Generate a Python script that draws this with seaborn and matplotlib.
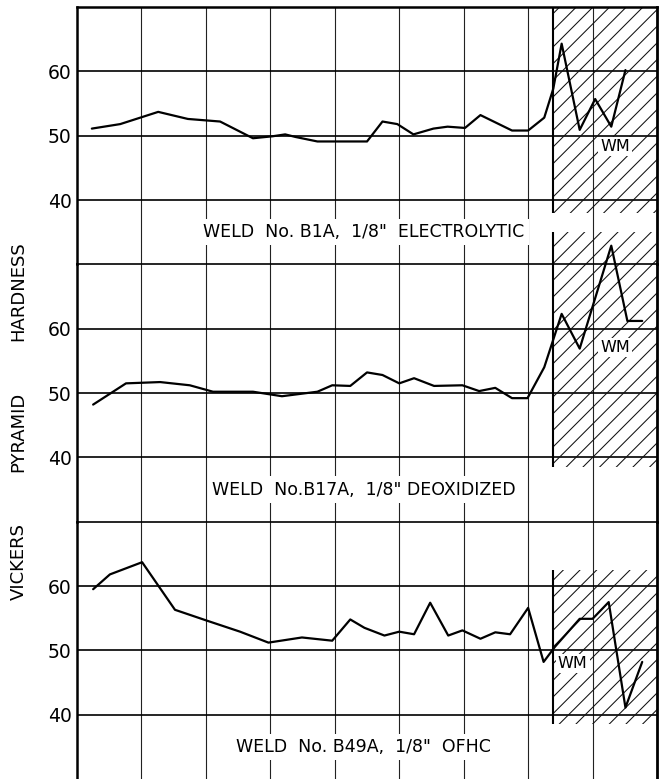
import matplotlib
matplotlib.use("Agg")
import matplotlib.pyplot as plt
from matplotlib.patches import Rectangle
import seaborn as sns
import pandas as pd

# ---- data (x in grid units 0..9, y = Vickers pyramid hardness) ----
p1_x = [0.23, 0.67, 1.26, 1.72, 2.22, 2.73, 3.03, 3.23, 3.39, 3.73, 4.50, 4.74, 4.97,
        5.22, 5.53, 5.75, 6.02, 6.26, 6.75, 7.00, 7.25, 7.39, 7.52, 7.80, 8.04, 8.29, 8.51]
p1_y = [51.1, 51.8, 53.7, 52.6, 52.2, 49.6, 49.9, 50.2, 49.8, 49.1, 49.1, 52.2, 51.8,
        50.2, 51.1, 51.4, 51.2, 53.2, 50.8, 50.8, 52.8, 57.3, 64.3, 50.9, 55.7, 51.4, 60.2]

p2_x = [0.25, 0.76, 1.29, 1.75, 2.11, 2.73, 3.18, 3.73, 3.96, 4.24, 4.50, 4.74, 5.00,
        5.23, 5.54, 5.98, 6.24, 6.49, 6.75, 6.99, 7.25, 7.52, 7.80, 8.29, 8.54, 8.77]
p2_y = [48.2, 51.5, 51.7, 51.2, 50.2, 50.2, 49.5, 50.2, 51.2, 51.1, 53.2, 52.8, 51.5,
        52.3, 51.1, 51.2, 50.3, 50.8, 49.2, 49.2, 54.0, 62.3, 56.9, 72.9, 61.2, 61.2]

p3_x = [0.25, 0.51, 1.01, 1.52, 2.02, 2.53, 2.97, 3.49, 3.96, 4.24, 4.46, 4.77, 5.00,
        5.23, 5.48, 5.76, 5.98, 6.26, 6.49, 6.72, 7.00, 7.24, 7.42, 7.80, 8.00, 8.25,
        8.51, 8.77]
p3_y = [59.5, 61.8, 63.7, 56.3, 54.6, 52.9, 51.2, 52.0, 51.5, 54.8, 53.5, 52.3, 52.9,
        52.5, 57.4, 52.3, 53.1, 51.8, 52.8, 52.5, 56.6, 48.2, 50.6, 54.9, 54.9, 57.5,
        41.1, 48.2]

panel_titles = ['WELD  No. B1A,  1/8"  ELECTROLYTIC',
                'WELD  No.B17A,  1/8" DEOXIDIZED',
                'WELD  No. B49A,  1/8"  OFHC']
ytick_values = [40, 50, 60]
ytick_labels = ["40", "50", "60"]
ylabel_words = ["VICKERS", "PYRAMID", "HARDNESS"]

# weld-metal zone (hatched) per panel: x start, y bottom, y top
wm_x0 = 7.39
wm_lo = [38.0, 38.5, 38.5]
wm_hi = [70.0, 75.0, 62.5]
wm_label_xy = [(8.35, 48.3), (8.35, 57.1), (7.69, 48.0)]

sns.set_style("white")
plt.rcParams["font.family"] = ["DejaVu Sans"]
plt.rcParams["hatch.linewidth"] = 0.75
plt.rcParams["text.color"] = "black"
plt.rcParams["ytick.color"] = "black"
plt.rcParams["ytick.labelcolor"] = "black"

fig = plt.figure(figsize=(6.64, 7.79), dpi=100)
axes = fig.subplots(3, 1, sharex=True)
fig.subplots_adjust(left=0.116, right=0.9895, top=0.991, bottom=0.0, hspace=0)

series = [(p1_x, p1_y), (p2_x, p2_y), (p3_x, p3_y)]

for i, ax in enumerate(axes):
    ax.set_facecolor("none")
    ax.set_xlim(0, 9)
    ax.set_ylim(30, 70)
    # grid
    for xv in range(1, 9):
        ax.axvline(xv, color="#222222", lw=0.8, zorder=1)
    for yv in ytick_values:
        ax.axhline(yv, color="black", lw=1.2, zorder=1)
    ax.set_yticks(ytick_values)
    ax.set_yticklabels(ytick_labels, fontsize=13.5, color="black")
    ax.set_xticks([])
    ax.tick_params(axis="y", length=0, pad=4, labelcolor="black")
    for s in ax.spines.values():
        s.set_color("black")
    ax.spines["bottom"].set_visible(False)
    ax.spines["left"].set_linewidth(1.8)
    ax.spines["right"].set_linewidth(2.0)
    ax.spines["top"].set_linewidth(1.8 if i == 0 else 1.2)

    # hatched weld-metal zone
    rect = Rectangle((wm_x0, wm_lo[i]), 9 - wm_x0, wm_hi[i] - wm_lo[i],
                     facecolor="none", edgecolor="#111111", hatch="//", lw=0,
                     clip_on=False, zorder=2)
    ax.add_patch(rect)
    ax.vlines(wm_x0, wm_lo[i], wm_hi[i], color="black", lw=1.5, clip_on=False, zorder=2)

    df = pd.DataFrame({"x": series[i][0], "y": series[i][1]})
    sns.lineplot(data=df, x="x", y="y", ax=ax, color="black", lw=1.6, sort=False,
                 estimator=None, clip_on=False, zorder=5)
    ax.set_ylabel("")
    ax.set_xlabel("")

    ax.text(4.45, 35.0, panel_titles[i], ha="center", va="center", fontsize=12.5,
            color="black",
            bbox=dict(facecolor="white", edgecolor="none", pad=3), zorder=6)
    wx, wy = wm_label_xy[i]
    ax.text(wx, wy, "WM", ha="center", va="center", fontsize=11.5, color="black",
            bbox=dict(facecolor="white", edgecolor="none", pad=1.5), zorder=6)

# y-axis title, one word at a time, rotated
word_centers = [562, 432, 291]
for w, yc in zip(ylabel_words, word_centers):
    fig.text(18.5 / 664, 1 - yc / 779, w, rotation=90, ha="center", va="center",
             fontsize=13, color="black")

fig.savefig("out.png", dpi=100)
